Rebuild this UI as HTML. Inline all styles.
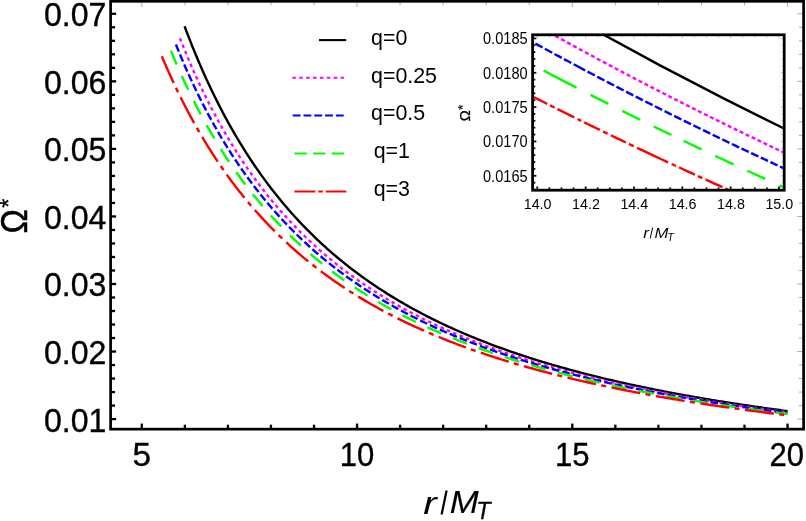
<!DOCTYPE html><html><head><meta charset="utf-8"><style>html,body{margin:0;padding:0;background:#fff}svg{display:block;will-change:transform}text{font-family:"Liberation Sans",sans-serif;fill:#000}</style></head><body>
<svg width="806" height="521" viewBox="0 0 806 521">
<rect width="806" height="521" fill="#fff"/>
<g fill="none" stroke-width="2.4" stroke-linecap="butt" stroke-linejoin="round">
<path d="M184.55,26.22 L186.56,31.55 L188.57,36.78 L190.58,41.91 L192.59,46.94 L194.60,51.87 L196.61,56.72 L198.62,61.48 L200.63,66.14 L202.64,70.73 L204.65,75.23 L206.66,79.65 L208.67,83.99 L210.68,88.26 L212.69,92.45 L214.70,96.56 L216.71,100.61 L218.72,104.59 L220.73,108.50 L222.74,112.34 L224.75,116.12 L226.76,119.83 L228.77,123.49 L230.78,127.08 L232.79,130.61 L234.80,134.09 L236.81,137.51 L238.82,140.88 L240.83,144.19 L242.84,147.45 L244.85,150.66 L246.86,153.81 L248.87,156.92 L250.88,159.98 L252.89,163.00 L254.90,165.96 L256.91,168.88 L258.92,171.76 L260.93,174.60 L262.94,177.39 L264.95,180.14 L266.96,182.85 L268.97,185.52 L270.98,188.16 L272.99,190.75 L275.00,193.31 L277.01,195.83 L279.02,198.31 L281.03,200.76 L283.04,203.17 L285.05,205.55 L287.06,207.90 L289.07,210.22 L291.08,212.50 L293.09,214.75 L295.10,216.97 L297.11,219.17 L299.12,221.33 L301.13,223.46 L303.14,225.56 L305.15,227.64 L307.16,229.69 L309.17,231.71 L311.18,233.71 L313.19,235.68 L315.20,237.62 L317.21,239.54 L319.22,241.44 L321.23,243.31 L323.24,245.15 L325.25,246.98 L327.26,248.78 L329.27,250.56 L331.28,252.31 L333.29,254.05 L335.30,255.76 L337.31,257.46 L339.32,259.13 L341.33,260.78 L343.34,262.41 L345.35,264.02 L347.36,265.62 L349.37,267.19 L351.38,268.75 L353.39,270.28 L355.40,271.80 L357.41,273.31 L359.42,274.79 L361.43,276.26 L363.44,277.71 L365.45,279.14 L367.46,280.56 L369.47,281.96 L371.48,283.34 L373.49,284.71 L375.50,286.07 L377.51,287.41 L379.52,288.73 L381.53,290.04 L383.54,291.34 L385.55,292.62 L387.56,293.89 L389.57,295.14 L391.58,296.38 L393.59,297.61 L395.60,298.82 L397.61,300.02 L399.62,301.21 L401.63,302.39 L403.64,303.55 L405.65,304.70 L407.66,305.84 L409.67,306.97 L411.68,308.08 L413.69,309.19 L415.70,310.28 L417.71,311.36 L419.72,312.43 L421.73,313.49 L423.74,314.54 L425.75,315.58 L427.76,316.61 L429.77,317.63 L431.78,318.63 L433.79,319.63 L435.80,320.62 L437.81,321.60 L439.82,322.57 L441.83,323.52 L443.84,324.47 L445.85,325.42 L447.86,326.35 L449.87,327.27 L451.88,328.18 L453.89,329.09 L455.90,329.99 L457.91,330.87 L459.92,331.75 L461.93,332.62 L463.94,333.49 L465.95,334.34 L467.96,335.19 L469.97,336.03 L471.98,336.86 L473.99,337.69 L476.00,338.50 L478.01,339.31 L480.02,340.11 L482.03,340.91 L484.04,341.70 L486.05,342.48 L488.06,343.25 L490.07,344.02 L492.08,344.78 L494.09,345.53 L496.10,346.28 L498.11,347.02 L500.12,347.75 L502.13,348.48 L504.14,349.20 L506.15,349.91 L508.16,350.62 L510.17,351.32 L512.18,352.02 L514.19,352.71 L516.20,353.39 L518.21,354.07 L520.22,354.74 L522.23,355.41 L524.24,356.07 L526.25,356.73 L528.26,357.38 L530.27,358.02 L532.28,358.66 L534.29,359.30 L536.30,359.93 L538.31,360.55 L540.32,361.17 L542.33,361.78 L544.34,362.39 L546.35,363.00 L548.36,363.60 L550.37,364.19 L552.38,364.78 L554.39,365.36 L556.40,365.94 L558.41,366.52 L560.42,367.09 L562.43,367.66 L564.44,368.22 L566.45,368.78 L568.46,369.33 L570.47,369.88 L572.48,370.42 L574.49,370.96 L576.50,371.50 L578.51,372.03 L580.52,372.56 L582.53,373.08 L584.54,373.60 L586.55,374.12 L588.56,374.63 L590.57,375.14 L592.58,375.64 L594.59,376.15 L596.60,376.64 L598.61,377.14 L600.62,377.62 L602.63,378.11 L604.64,378.59 L606.65,379.07 L608.66,379.55 L610.67,380.02 L612.68,380.49 L614.69,380.95 L616.70,381.41 L618.71,381.87 L620.72,382.33 L622.73,382.78 L624.74,383.23 L626.75,383.67 L628.76,384.11 L630.77,384.55 L632.78,384.99 L634.79,385.42 L636.80,385.85 L638.81,386.27 L640.82,386.70 L642.83,387.12 L644.84,387.54 L646.85,387.95 L648.86,388.36 L650.87,388.77 L652.88,389.18 L654.89,389.58 L656.90,389.98 L658.91,390.38 L660.92,390.77 L662.93,391.17 L664.94,391.56 L666.95,391.94 L668.96,392.33 L670.97,392.71 L672.98,393.09 L674.99,393.46 L677.00,393.84 L679.01,394.21 L681.02,394.58 L683.03,394.95 L685.04,395.31 L687.05,395.67 L689.06,396.03 L691.07,396.39 L693.08,396.74 L695.09,397.10 L697.10,397.45 L699.11,397.79 L701.12,398.14 L703.13,398.48 L705.14,398.82 L707.15,399.16 L709.16,399.50 L711.17,399.83 L713.18,400.17 L715.19,400.50 L717.20,400.83 L719.21,401.15 L721.22,401.48 L723.23,401.80 L725.24,402.12 L727.25,402.44 L729.26,402.75 L731.27,403.07 L733.28,403.38 L735.29,403.69 L737.30,404.00 L739.31,404.30 L741.32,404.61 L743.33,404.91 L745.34,405.21 L747.35,405.51 L749.36,405.81 L751.37,406.10 L753.38,406.40 L755.39,406.69 L757.40,406.98 L759.41,407.27 L761.42,407.55 L763.43,407.84 L765.44,408.12 L767.45,408.40 L769.46,408.68 L771.47,408.96 L773.48,409.24 L775.49,409.51 L777.50,409.78 L779.51,410.06 L781.52,410.33 L783.53,410.59 L785.54,410.86 L787.55,411.13" stroke="#000"/>
<path d="M179.94,38.21 L181.97,43.34 L183.99,48.37 L186.02,53.31 L188.04,58.16 L190.07,62.91 L192.09,67.58 L194.12,72.17 L196.15,76.67 L198.17,81.09 L200.20,85.44 L202.22,89.70 L204.25,93.89 L206.27,98.01 L208.30,102.06 L210.32,106.04 L212.35,109.94 L214.37,113.79 L216.40,117.56 L218.42,121.28 L220.45,124.93 L222.47,128.52 L224.50,132.06 L226.53,135.53 L228.55,138.95 L230.58,142.32 L232.60,145.63 L234.63,148.88 L236.65,152.09 L238.68,155.24 L240.70,158.35 L242.73,161.41 L244.75,164.42 L246.78,167.39 L248.80,170.31 L250.83,173.18 L252.86,176.01 L254.88,178.80 L256.91,181.55 L258.93,184.26 L260.96,186.93 L262.98,189.56 L265.01,192.15 L267.03,194.70 L269.06,197.22 L271.08,199.70 L273.11,202.15 L275.13,204.56 L277.16,206.93 L279.18,209.28 L281.21,211.59 L283.24,213.87 L285.26,216.12 L287.29,218.34 L289.31,220.52 L291.34,222.68 L293.36,224.81 L295.39,226.91 L297.41,228.98 L299.44,231.03 L301.46,233.05 L303.49,235.04 L305.51,237.01 L307.54,238.95 L309.57,240.86 L311.59,242.75 L313.62,244.62 L315.64,246.46 L317.67,248.28 L319.69,250.08 L321.72,251.85 L323.74,253.61 L325.77,255.34 L327.79,257.05 L329.82,258.74 L331.84,260.40 L333.87,262.05 L335.89,263.68 L337.92,265.29 L339.95,266.88 L341.97,268.45 L344.00,270.00 L346.02,271.53 L348.05,273.05 L350.07,274.55 L352.10,276.03 L354.12,277.49 L356.15,278.94 L358.17,280.37 L360.20,281.78 L362.22,283.18 L364.25,284.56 L366.28,285.92 L368.30,287.27 L370.33,288.61 L372.35,289.93 L374.38,291.24 L376.40,292.53 L378.43,293.81 L380.45,295.07 L382.48,296.32 L384.50,297.56 L386.53,298.78 L388.55,299.99 L390.58,301.19 L392.60,302.37 L394.63,303.54 L396.66,304.70 L398.68,305.85 L400.71,306.98 L402.73,308.11 L404.76,309.22 L406.78,310.32 L408.81,311.41 L410.83,312.49 L412.86,313.55 L414.88,314.61 L416.91,315.65 L418.93,316.69 L420.96,317.71 L422.99,318.73 L425.01,319.73 L427.04,320.72 L429.06,321.71 L431.09,322.68 L433.11,323.65 L435.14,324.60 L437.16,325.55 L439.19,326.49 L441.21,327.41 L443.24,328.33 L445.26,329.24 L447.29,330.15 L449.32,331.04 L451.34,331.92 L453.37,332.80 L455.39,333.67 L457.42,334.53 L459.44,335.38 L461.47,336.22 L463.49,337.06 L465.52,337.89 L467.54,338.71 L469.57,339.52 L471.59,340.33 L473.62,341.13 L475.64,341.92 L477.67,342.70 L479.70,343.48 L481.72,344.25 L483.75,345.01 L485.77,345.77 L487.80,346.52 L489.82,347.26 L491.85,348.00 L493.87,348.73 L495.90,349.45 L497.92,350.17 L499.95,350.88 L501.97,351.58 L504.00,352.28 L506.03,352.98 L508.05,353.66 L510.08,354.34 L512.10,355.02 L514.13,355.69 L516.15,356.35 L518.18,357.01 L520.20,357.66 L522.23,358.31 L524.25,358.95 L526.28,359.59 L528.30,360.22 L530.33,360.85 L532.35,361.47 L534.38,362.09 L536.41,362.70 L538.43,363.30 L540.46,363.90 L542.48,364.50 L544.51,365.09 L546.53,365.68 L548.56,366.26 L550.58,366.84 L552.61,367.41 L554.63,367.98 L556.66,368.54 L558.68,369.10 L560.71,369.65 L562.74,370.20 L564.76,370.75 L566.79,371.29 L568.81,371.83 L570.84,372.36 L572.86,372.89 L574.89,373.42 L576.91,373.94 L578.94,374.46 L580.96,374.97 L582.99,375.48 L585.01,375.98 L587.04,376.49 L589.06,376.98 L591.09,377.48 L593.12,377.97 L595.14,378.46 L597.17,378.94 L599.19,379.42 L601.22,379.90 L603.24,380.37 L605.27,380.84 L607.29,381.30 L609.32,381.76 L611.34,382.22 L613.37,382.68 L615.39,383.13 L617.42,383.58 L619.45,384.03 L621.47,384.47 L623.50,384.91 L625.52,385.34 L627.55,385.78 L629.57,386.21 L631.60,386.63 L633.62,387.06 L635.65,387.48 L637.67,387.90 L639.70,388.31 L641.72,388.73 L643.75,389.13 L645.77,389.54 L647.80,389.94 L649.83,390.35 L651.85,390.74 L653.88,391.14 L655.90,391.53 L657.93,391.92 L659.95,392.31 L661.98,392.69 L664.00,393.08 L666.03,393.46 L668.05,393.83 L670.08,394.21 L672.10,394.58 L674.13,394.95 L676.16,395.32 L678.18,395.68 L680.21,396.04 L682.23,396.40 L684.26,396.76 L686.28,397.11 L688.31,397.47 L690.33,397.82 L692.36,398.17 L694.38,398.51 L696.41,398.85 L698.43,399.20 L700.46,399.53 L702.48,399.87 L704.51,400.21 L706.54,400.54 L708.56,400.87 L710.59,401.20 L712.61,401.52 L714.64,401.85 L716.66,402.17 L718.69,402.49 L720.71,402.81 L722.74,403.13 L724.76,403.44 L726.79,403.75 L728.81,404.06 L730.84,404.37 L732.87,404.68 L734.89,404.98 L736.92,405.28 L738.94,405.58 L740.97,405.88 L742.99,406.18 L745.02,406.48 L747.04,406.77 L749.07,407.06 L751.09,407.35 L753.12,407.64 L755.14,407.93 L757.17,408.21 L759.19,408.49 L761.22,408.77 L763.25,409.05 L765.27,409.33 L767.30,409.61 L769.32,409.88 L771.35,410.16 L773.37,410.43 L775.40,410.70 L777.42,410.96 L779.45,411.23 L781.47,411.50 L783.50,411.76 L785.52,412.02 L787.55,412.28" stroke="#ff00ff" stroke-dasharray="3.5 3.4"/>
<path d="M175.90,44.47 L177.93,49.50 L179.97,54.43 L182.01,59.28 L184.05,64.03 L186.09,68.70 L188.13,73.28 L190.17,77.78 L192.21,82.19 L194.25,86.53 L196.28,90.80 L198.32,94.98 L200.36,99.10 L202.40,103.14 L204.44,107.11 L206.48,111.02 L208.52,114.86 L210.56,118.64 L212.59,122.35 L214.63,126.00 L216.67,129.59 L218.71,133.12 L220.75,136.59 L222.79,140.01 L224.83,143.37 L226.87,146.68 L228.91,149.93 L230.94,153.13 L232.98,156.29 L235.02,159.39 L237.06,162.45 L239.10,165.46 L241.14,168.42 L243.18,171.34 L245.22,174.21 L247.26,177.04 L249.29,179.83 L251.33,182.57 L253.37,185.28 L255.41,187.95 L257.45,190.57 L259.49,193.16 L261.53,195.71 L263.57,198.23 L265.60,200.71 L267.64,203.15 L269.68,205.56 L271.72,207.93 L273.76,210.27 L275.80,212.58 L277.84,214.86 L279.88,217.11 L281.92,219.32 L283.95,221.51 L285.99,223.66 L288.03,225.79 L290.07,227.89 L292.11,229.96 L294.15,232.00 L296.19,234.02 L298.23,236.01 L300.27,237.97 L302.30,239.91 L304.34,241.82 L306.38,243.71 L308.42,245.58 L310.46,247.42 L312.50,249.23 L314.54,251.03 L316.58,252.80 L318.61,254.55 L320.65,256.28 L322.69,257.99 L324.73,259.67 L326.77,261.34 L328.81,262.98 L330.85,264.61 L332.89,266.22 L334.93,267.80 L336.96,269.37 L339.00,270.92 L341.04,272.45 L343.08,273.96 L345.12,275.46 L347.16,276.94 L349.20,278.40 L351.24,279.84 L353.28,281.27 L355.31,282.68 L357.35,284.07 L359.39,285.45 L361.43,286.82 L363.47,288.17 L365.51,289.50 L367.55,290.82 L369.59,292.12 L371.63,293.41 L373.66,294.68 L375.70,295.95 L377.74,297.19 L379.78,298.43 L381.82,299.65 L383.86,300.86 L385.90,302.05 L387.94,303.23 L389.97,304.40 L392.01,305.56 L394.05,306.70 L396.09,307.84 L398.13,308.96 L400.17,310.07 L402.21,311.16 L404.25,312.25 L406.29,313.33 L408.32,314.39 L410.36,315.44 L412.40,316.49 L414.44,317.52 L416.48,318.54 L418.52,319.55 L420.56,320.55 L422.60,321.55 L424.64,322.53 L426.67,323.50 L428.71,324.46 L430.75,325.41 L432.79,326.36 L434.83,327.29 L436.87,328.22 L438.91,329.14 L440.95,330.04 L442.98,330.94 L445.02,331.83 L447.06,332.72 L449.10,333.59 L451.14,334.46 L453.18,335.31 L455.22,336.16 L457.26,337.00 L459.30,337.84 L461.33,338.66 L463.37,339.48 L465.41,340.29 L467.45,341.10 L469.49,341.89 L471.53,342.68 L473.57,343.46 L475.61,344.24 L477.65,345.01 L479.68,345.77 L481.72,346.52 L483.76,347.27 L485.80,348.01 L487.84,348.75 L489.88,349.47 L491.92,350.19 L493.96,350.91 L495.99,351.62 L498.03,352.32 L500.07,353.02 L502.11,353.71 L504.15,354.39 L506.19,355.07 L508.23,355.75 L510.27,356.41 L512.31,357.08 L514.34,357.73 L516.38,358.38 L518.42,359.03 L520.46,359.67 L522.50,360.30 L524.54,360.93 L526.58,361.56 L528.62,362.18 L530.66,362.79 L532.69,363.40 L534.73,364.00 L536.77,364.60 L538.81,365.19 L540.85,365.78 L542.89,366.37 L544.93,366.95 L546.97,367.52 L549.00,368.09 L551.04,368.66 L553.08,369.22 L555.12,369.78 L557.16,370.33 L559.20,370.88 L561.24,371.42 L563.28,371.96 L565.32,372.50 L567.35,373.03 L569.39,373.56 L571.43,374.08 L573.47,374.60 L575.51,375.12 L577.55,375.63 L579.59,376.14 L581.63,376.64 L583.67,377.14 L585.70,377.64 L587.74,378.13 L589.78,378.62 L591.82,379.10 L593.86,379.58 L595.90,380.06 L597.94,380.54 L599.98,381.01 L602.01,381.47 L604.05,381.94 L606.09,382.40 L608.13,382.86 L610.17,383.31 L612.21,383.76 L614.25,384.21 L616.29,384.65 L618.33,385.09 L620.36,385.53 L622.40,385.96 L624.44,386.40 L626.48,386.82 L628.52,387.25 L630.56,387.67 L632.60,388.09 L634.64,388.51 L636.68,388.92 L638.71,389.33 L640.75,389.74 L642.79,390.14 L644.83,390.55 L646.87,390.95 L648.91,391.34 L650.95,391.74 L652.99,392.13 L655.02,392.51 L657.06,392.90 L659.10,393.28 L661.14,393.66 L663.18,394.04 L665.22,394.42 L667.26,394.79 L669.30,395.16 L671.34,395.53 L673.37,395.89 L675.41,396.26 L677.45,396.62 L679.49,396.98 L681.53,397.33 L683.57,397.68 L685.61,398.04 L687.65,398.38 L689.69,398.73 L691.72,399.08 L693.76,399.42 L695.80,399.76 L697.84,400.10 L699.88,400.43 L701.92,400.76 L703.96,401.10 L706.00,401.42 L708.03,401.75 L710.07,402.08 L712.11,402.40 L714.15,402.72 L716.19,403.04 L718.23,403.35 L720.27,403.67 L722.31,403.98 L724.35,404.29 L726.38,404.60 L728.42,404.91 L730.46,405.21 L732.50,405.52 L734.54,405.82 L736.58,406.12 L738.62,406.41 L740.66,406.71 L742.70,407.00 L744.73,407.30 L746.77,407.59 L748.81,407.88 L750.85,408.16 L752.89,408.45 L754.93,408.73 L756.97,409.01 L759.01,409.29 L761.04,409.57 L763.08,409.85 L765.12,410.12 L767.16,410.40 L769.20,410.67 L771.24,410.94 L773.28,411.21 L775.32,411.47 L777.36,411.74 L779.39,412.00 L781.43,412.26 L783.47,412.52 L785.51,412.78 L787.55,413.04" stroke="#0000ff" stroke-dasharray="7.7 3.1"/>
<path d="M170.82,50.63 L172.87,55.58 L174.93,60.43 L176.98,65.20 L179.04,69.88 L181.09,74.48 L183.15,78.99 L185.21,83.42 L187.26,87.77 L189.32,92.04 L191.37,96.24 L193.43,100.36 L195.49,104.41 L197.54,108.39 L199.60,112.31 L201.65,116.15 L203.71,119.93 L205.76,123.65 L207.82,127.31 L209.88,130.90 L211.93,134.44 L213.99,137.92 L216.04,141.34 L218.10,144.70 L220.15,148.01 L222.21,151.27 L224.27,154.48 L226.32,157.64 L228.38,160.74 L230.43,163.80 L232.49,166.81 L234.54,169.78 L236.60,172.70 L238.66,175.57 L240.71,178.40 L242.77,181.19 L244.82,183.94 L246.88,186.64 L248.94,189.31 L250.99,191.94 L253.05,194.53 L255.10,197.08 L257.16,199.59 L259.21,202.07 L261.27,204.51 L263.33,206.92 L265.38,209.30 L267.44,211.64 L269.49,213.95 L271.55,216.22 L273.60,218.47 L275.66,220.68 L277.72,222.87 L279.77,225.02 L281.83,227.14 L283.88,229.24 L285.94,231.31 L288.00,233.35 L290.05,235.36 L292.11,237.35 L294.16,239.31 L296.22,241.25 L298.27,243.16 L300.33,245.05 L302.39,246.91 L304.44,248.75 L306.50,250.56 L308.55,252.35 L310.61,254.12 L312.66,255.87 L314.72,257.60 L316.78,259.30 L318.83,260.99 L320.89,262.65 L322.94,264.29 L325.00,265.91 L327.06,267.52 L329.11,269.10 L331.17,270.66 L333.22,272.21 L335.28,273.74 L337.33,275.25 L339.39,276.74 L341.45,278.21 L343.50,279.67 L345.56,281.11 L347.61,282.54 L349.67,283.94 L351.72,285.34 L353.78,286.71 L355.84,288.07 L357.89,289.42 L359.95,290.75 L362.00,292.06 L364.06,293.36 L366.11,294.65 L368.17,295.92 L370.23,297.18 L372.28,298.42 L374.34,299.65 L376.39,300.87 L378.45,302.07 L380.51,303.26 L382.56,304.44 L384.62,305.61 L386.67,306.76 L388.73,307.90 L390.78,309.03 L392.84,310.15 L394.90,311.25 L396.95,312.35 L399.01,313.43 L401.06,314.50 L403.12,315.56 L405.17,316.61 L407.23,317.65 L409.29,318.68 L411.34,319.70 L413.40,320.71 L415.45,321.71 L417.51,322.69 L419.57,323.67 L421.62,324.64 L423.68,325.60 L425.73,326.55 L427.79,327.49 L429.84,328.42 L431.90,329.34 L433.96,330.26 L436.01,331.16 L438.07,332.06 L440.12,332.94 L442.18,333.82 L444.23,334.69 L446.29,335.56 L448.35,336.41 L450.40,337.26 L452.46,338.09 L454.51,338.92 L456.57,339.75 L458.63,340.56 L460.68,341.37 L462.74,342.17 L464.79,342.96 L466.85,343.75 L468.90,344.53 L470.96,345.30 L473.02,346.06 L475.07,346.82 L477.13,347.57 L479.18,348.32 L481.24,349.05 L483.29,349.78 L485.35,350.51 L487.41,351.23 L489.46,351.94 L491.52,352.65 L493.57,353.34 L495.63,354.04 L497.68,354.73 L499.74,355.41 L501.80,356.08 L503.85,356.75 L505.91,357.42 L507.96,358.08 L510.02,358.73 L512.08,359.38 L514.13,360.02 L516.19,360.66 L518.24,361.29 L520.30,361.91 L522.35,362.53 L524.41,363.15 L526.47,363.76 L528.52,364.37 L530.58,364.97 L532.63,365.56 L534.69,366.16 L536.74,366.74 L538.80,367.32 L540.86,367.90 L542.91,368.47 L544.97,369.04 L547.02,369.60 L549.08,370.16 L551.14,370.72 L553.19,371.27 L555.25,371.81 L557.30,372.35 L559.36,372.89 L561.41,373.42 L563.47,373.95 L565.53,374.48 L567.58,375.00 L569.64,375.51 L571.69,376.03 L573.75,376.53 L575.80,377.04 L577.86,377.54 L579.92,378.04 L581.97,378.53 L584.03,379.02 L586.08,379.51 L588.14,379.99 L590.20,380.47 L592.25,380.94 L594.31,381.41 L596.36,381.88 L598.42,382.35 L600.47,382.81 L602.53,383.27 L604.59,383.72 L606.64,384.17 L608.70,384.62 L610.75,385.06 L612.81,385.51 L614.86,385.94 L616.92,386.38 L618.98,386.81 L621.03,387.24 L623.09,387.67 L625.14,388.09 L627.20,388.51 L629.25,388.92 L631.31,389.34 L633.37,389.75 L635.42,390.16 L637.48,390.56 L639.53,390.97 L641.59,391.36 L643.65,391.76 L645.70,392.16 L647.76,392.55 L649.81,392.94 L651.87,393.32 L653.92,393.71 L655.98,394.09 L658.04,394.46 L660.09,394.84 L662.15,395.21 L664.20,395.58 L666.26,395.95 L668.31,396.32 L670.37,396.68 L672.43,397.04 L674.48,397.40 L676.54,397.75 L678.59,398.11 L680.65,398.46 L682.71,398.81 L684.76,399.16 L686.82,399.50 L688.87,399.84 L690.93,400.18 L692.98,400.52 L695.04,400.85 L697.10,401.19 L699.15,401.52 L701.21,401.85 L703.26,402.17 L705.32,402.50 L707.37,402.82 L709.43,403.14 L711.49,403.46 L713.54,403.78 L715.60,404.09 L717.65,404.41 L719.71,404.72 L721.77,405.02 L723.82,405.33 L725.88,405.64 L727.93,405.94 L729.99,406.24 L732.04,406.54 L734.10,406.84 L736.16,407.13 L738.21,407.43 L740.27,407.72 L742.32,408.01 L744.38,408.30 L746.43,408.58 L748.49,408.87 L750.55,409.15 L752.60,409.43 L754.66,409.71 L756.71,409.99 L758.77,410.27 L760.82,410.54 L762.88,410.81 L764.94,411.09 L766.99,411.36 L769.05,411.62 L771.10,411.89 L773.16,412.16 L775.22,412.42 L777.27,412.68 L779.33,412.94 L781.38,413.20 L783.44,413.46 L785.49,413.71 L787.55,413.97" stroke="#00ff00" stroke-dasharray="15.1 12.58"/>
<path d="M161.82,56.26 L163.90,61.16 L165.99,65.97 L168.08,70.69 L170.16,75.33 L172.25,79.88 L174.33,84.34 L176.42,88.73 L178.50,93.04 L180.59,97.27 L182.68,101.42 L184.76,105.51 L186.85,109.52 L188.93,113.46 L191.02,117.33 L193.10,121.14 L195.19,124.88 L197.28,128.56 L199.36,132.18 L201.45,135.74 L203.53,139.24 L205.62,142.68 L207.71,146.07 L209.79,149.40 L211.88,152.68 L213.96,155.90 L216.05,159.07 L218.13,162.20 L220.22,165.27 L222.31,168.30 L224.39,171.27 L226.48,174.21 L228.56,177.10 L230.65,179.94 L232.73,182.74 L234.82,185.50 L236.91,188.22 L238.99,190.89 L241.08,193.53 L243.16,196.13 L245.25,198.69 L247.33,201.21 L249.42,203.70 L251.51,206.15 L253.59,208.57 L255.68,210.95 L257.76,213.30 L259.85,215.61 L261.94,217.89 L264.02,220.14 L266.11,222.36 L268.19,224.55 L270.28,226.71 L272.36,228.84 L274.45,230.94 L276.54,233.01 L278.62,235.06 L280.71,237.08 L282.79,239.07 L284.88,241.03 L286.96,242.97 L289.05,244.88 L291.14,246.77 L293.22,248.64 L295.31,250.48 L297.39,252.29 L299.48,254.09 L301.57,255.86 L303.65,257.61 L305.74,259.33 L307.82,261.04 L309.91,262.72 L311.99,264.39 L314.08,266.03 L316.17,267.65 L318.25,269.26 L320.34,270.84 L322.42,272.40 L324.51,273.95 L326.59,275.48 L328.68,276.99 L330.77,278.48 L332.85,279.95 L334.94,281.41 L337.02,282.85 L339.11,284.27 L341.19,285.68 L343.28,287.07 L345.37,288.44 L347.45,289.80 L349.54,291.14 L351.62,292.47 L353.71,293.78 L355.80,295.08 L357.88,296.37 L359.97,297.64 L362.05,298.89 L364.14,300.13 L366.22,301.36 L368.31,302.58 L370.40,303.78 L372.48,304.97 L374.57,306.14 L376.65,307.31 L378.74,308.46 L380.82,309.60 L382.91,310.72 L385.00,311.84 L387.08,312.94 L389.17,314.03 L391.25,315.11 L393.34,316.18 L395.42,317.24 L397.51,318.29 L399.60,319.32 L401.68,320.35 L403.77,321.36 L405.85,322.37 L407.94,323.36 L410.03,324.35 L412.11,325.32 L414.20,326.29 L416.28,327.24 L418.37,328.19 L420.45,329.13 L422.54,330.06 L424.63,330.97 L426.71,331.88 L428.80,332.79 L430.88,333.68 L432.97,334.56 L435.05,335.44 L437.14,336.30 L439.23,337.16 L441.31,338.01 L443.40,338.86 L445.48,339.69 L447.57,340.52 L449.65,341.34 L451.74,342.15 L453.83,342.95 L455.91,343.75 L458.00,344.54 L460.08,345.32 L462.17,346.10 L464.26,346.86 L466.34,347.62 L468.43,348.38 L470.51,349.13 L472.60,349.87 L474.68,350.60 L476.77,351.33 L478.86,352.05 L480.94,352.76 L483.03,353.47 L485.11,354.17 L487.20,354.87 L489.28,355.56 L491.37,356.24 L493.46,356.92 L495.54,357.59 L497.63,358.26 L499.71,358.92 L501.80,359.57 L503.88,360.22 L505.97,360.87 L508.06,361.51 L510.14,362.14 L512.23,362.77 L514.31,363.39 L516.40,364.01 L518.49,364.62 L520.57,365.23 L522.66,365.83 L524.74,366.43 L526.83,367.02 L528.91,367.61 L531.00,368.19 L533.09,368.77 L535.17,369.34 L537.26,369.91 L539.34,370.47 L541.43,371.03 L543.51,371.59 L545.60,372.14 L547.69,372.68 L549.77,373.23 L551.86,373.76 L553.94,374.30 L556.03,374.83 L558.12,375.35 L560.20,375.87 L562.29,376.39 L564.37,376.90 L566.46,377.41 L568.54,377.92 L570.63,378.42 L572.72,378.92 L574.80,379.41 L576.89,379.90 L578.97,380.38 L581.06,380.87 L583.14,381.35 L585.23,381.82 L587.32,382.29 L589.40,382.76 L591.49,383.23 L593.57,383.69 L595.66,384.14 L597.74,384.60 L599.83,385.05 L601.92,385.50 L604.00,385.94 L606.09,386.38 L608.17,386.82 L610.26,387.26 L612.35,387.69 L614.43,388.12 L616.52,388.54 L618.60,388.96 L620.69,389.38 L622.77,389.80 L624.86,390.21 L626.95,390.62 L629.03,391.03 L631.12,391.44 L633.20,391.84 L635.29,392.24 L637.37,392.63 L639.46,393.03 L641.55,393.42 L643.63,393.81 L645.72,394.19 L647.80,394.57 L649.89,394.95 L651.97,395.33 L654.06,395.71 L656.15,396.08 L658.23,396.45 L660.32,396.82 L662.40,397.18 L664.49,397.54 L666.58,397.90 L668.66,398.26 L670.75,398.62 L672.83,398.97 L674.92,399.32 L677.00,399.67 L679.09,400.01 L681.18,400.36 L683.26,400.70 L685.35,401.04 L687.43,401.37 L689.52,401.71 L691.60,402.04 L693.69,402.37 L695.78,402.70 L697.86,403.03 L699.95,403.35 L702.03,403.67 L704.12,403.99 L706.20,404.31 L708.29,404.62 L710.38,404.94 L712.46,405.25 L714.55,405.56 L716.63,405.87 L718.72,406.17 L720.81,406.48 L722.89,406.78 L724.98,407.08 L727.06,407.38 L729.15,407.67 L731.23,407.97 L733.32,408.26 L735.41,408.55 L737.49,408.84 L739.58,409.13 L741.66,409.41 L743.75,409.70 L745.83,409.98 L747.92,410.26 L750.01,410.54 L752.09,410.82 L754.18,411.09 L756.26,411.36 L758.35,411.64 L760.43,411.91 L762.52,412.18 L764.61,412.44 L766.69,412.71 L768.78,412.97 L770.86,413.23 L772.95,413.50 L775.04,413.75 L777.12,414.01 L779.21,414.27 L781.29,414.52 L783.38,414.78 L785.46,415.03 L787.55,415.28" stroke="#ff0000" stroke-dasharray="29.2 5.35 5.05 5.5"/>
</g>
<g stroke="#777" stroke-width="0.6">
<line x1="141.80" y1="2.55" x2="141.80" y2="7.05"/>
<line x1="184.85" y1="2.55" x2="184.85" y2="5.55"/>
<line x1="227.90" y1="2.55" x2="227.90" y2="5.55"/>
<line x1="270.95" y1="2.55" x2="270.95" y2="5.55"/>
<line x1="314.00" y1="2.55" x2="314.00" y2="5.55"/>
<line x1="357.05" y1="2.55" x2="357.05" y2="7.05"/>
<line x1="400.10" y1="2.55" x2="400.10" y2="5.55"/>
<line x1="443.15" y1="2.55" x2="443.15" y2="5.55"/>
<line x1="486.20" y1="2.55" x2="486.20" y2="5.55"/>
<line x1="529.25" y1="2.55" x2="529.25" y2="5.55"/>
<line x1="572.30" y1="2.55" x2="572.30" y2="7.05"/>
<line x1="615.35" y1="2.55" x2="615.35" y2="5.55"/>
<line x1="658.40" y1="2.55" x2="658.40" y2="5.55"/>
<line x1="701.45" y1="2.55" x2="701.45" y2="5.55"/>
<line x1="744.50" y1="2.55" x2="744.50" y2="5.55"/>
<line x1="787.55" y1="2.55" x2="787.55" y2="7.05"/>
<line x1="797.05" y1="419.10" x2="802.35" y2="419.10"/>
<line x1="798.95" y1="405.59" x2="802.35" y2="405.59"/>
<line x1="798.95" y1="392.08" x2="802.35" y2="392.08"/>
<line x1="798.95" y1="378.57" x2="802.35" y2="378.57"/>
<line x1="798.95" y1="365.06" x2="802.35" y2="365.06"/>
<line x1="797.05" y1="351.55" x2="802.35" y2="351.55"/>
<line x1="798.95" y1="338.04" x2="802.35" y2="338.04"/>
<line x1="798.95" y1="324.53" x2="802.35" y2="324.53"/>
<line x1="798.95" y1="311.02" x2="802.35" y2="311.02"/>
<line x1="798.95" y1="297.51" x2="802.35" y2="297.51"/>
<line x1="797.05" y1="284.00" x2="802.35" y2="284.00"/>
<line x1="798.95" y1="270.49" x2="802.35" y2="270.49"/>
<line x1="798.95" y1="256.98" x2="802.35" y2="256.98"/>
<line x1="798.95" y1="243.47" x2="802.35" y2="243.47"/>
<line x1="798.95" y1="229.96" x2="802.35" y2="229.96"/>
<line x1="797.05" y1="216.45" x2="802.35" y2="216.45"/>
<line x1="798.95" y1="202.94" x2="802.35" y2="202.94"/>
<line x1="798.95" y1="189.43" x2="802.35" y2="189.43"/>
<line x1="798.95" y1="175.92" x2="802.35" y2="175.92"/>
<line x1="798.95" y1="162.41" x2="802.35" y2="162.41"/>
<line x1="797.05" y1="148.90" x2="802.35" y2="148.90"/>
<line x1="798.95" y1="135.39" x2="802.35" y2="135.39"/>
<line x1="798.95" y1="121.88" x2="802.35" y2="121.88"/>
<line x1="798.95" y1="108.37" x2="802.35" y2="108.37"/>
<line x1="798.95" y1="94.86" x2="802.35" y2="94.86"/>
<line x1="797.05" y1="81.35" x2="802.35" y2="81.35"/>
<line x1="798.95" y1="67.84" x2="802.35" y2="67.84"/>
<line x1="798.95" y1="54.33" x2="802.35" y2="54.33"/>
<line x1="798.95" y1="40.82" x2="802.35" y2="40.82"/>
<line x1="798.95" y1="27.31" x2="802.35" y2="27.31"/>
<line x1="797.05" y1="13.80" x2="802.35" y2="13.80"/>
</g>
<g stroke="#000" stroke-width="2.3">
<line x1="141.80" y1="423.60" x2="141.80" y2="429.15"/>
<line x1="184.85" y1="424.70" x2="184.85" y2="429.15"/>
<line x1="227.90" y1="424.70" x2="227.90" y2="429.15"/>
<line x1="270.95" y1="424.70" x2="270.95" y2="429.15"/>
<line x1="314.00" y1="424.70" x2="314.00" y2="429.15"/>
<line x1="357.05" y1="423.60" x2="357.05" y2="429.15"/>
<line x1="400.10" y1="424.70" x2="400.10" y2="429.15"/>
<line x1="443.15" y1="424.70" x2="443.15" y2="429.15"/>
<line x1="486.20" y1="424.70" x2="486.20" y2="429.15"/>
<line x1="529.25" y1="424.70" x2="529.25" y2="429.15"/>
<line x1="572.30" y1="423.60" x2="572.30" y2="429.15"/>
<line x1="615.35" y1="424.70" x2="615.35" y2="429.15"/>
<line x1="658.40" y1="424.70" x2="658.40" y2="429.15"/>
<line x1="701.45" y1="424.70" x2="701.45" y2="429.15"/>
<line x1="744.50" y1="424.70" x2="744.50" y2="429.15"/>
<line x1="787.55" y1="423.60" x2="787.55" y2="429.15"/>
<line x1="110.60" y1="419.10" x2="116.15" y2="419.10"/>
<line x1="110.60" y1="405.59" x2="115.05" y2="405.59"/>
<line x1="110.60" y1="392.08" x2="115.05" y2="392.08"/>
<line x1="110.60" y1="378.57" x2="115.05" y2="378.57"/>
<line x1="110.60" y1="365.06" x2="115.05" y2="365.06"/>
<line x1="110.60" y1="351.55" x2="116.15" y2="351.55"/>
<line x1="110.60" y1="338.04" x2="115.05" y2="338.04"/>
<line x1="110.60" y1="324.53" x2="115.05" y2="324.53"/>
<line x1="110.60" y1="311.02" x2="115.05" y2="311.02"/>
<line x1="110.60" y1="297.51" x2="115.05" y2="297.51"/>
<line x1="110.60" y1="284.00" x2="116.15" y2="284.00"/>
<line x1="110.60" y1="270.49" x2="115.05" y2="270.49"/>
<line x1="110.60" y1="256.98" x2="115.05" y2="256.98"/>
<line x1="110.60" y1="243.47" x2="115.05" y2="243.47"/>
<line x1="110.60" y1="229.96" x2="115.05" y2="229.96"/>
<line x1="110.60" y1="216.45" x2="116.15" y2="216.45"/>
<line x1="110.60" y1="202.94" x2="115.05" y2="202.94"/>
<line x1="110.60" y1="189.43" x2="115.05" y2="189.43"/>
<line x1="110.60" y1="175.92" x2="115.05" y2="175.92"/>
<line x1="110.60" y1="162.41" x2="115.05" y2="162.41"/>
<line x1="110.60" y1="148.90" x2="116.15" y2="148.90"/>
<line x1="110.60" y1="135.39" x2="115.05" y2="135.39"/>
<line x1="110.60" y1="121.88" x2="115.05" y2="121.88"/>
<line x1="110.60" y1="108.37" x2="115.05" y2="108.37"/>
<line x1="110.60" y1="94.86" x2="115.05" y2="94.86"/>
<line x1="110.60" y1="81.35" x2="116.15" y2="81.35"/>
<line x1="110.60" y1="67.84" x2="115.05" y2="67.84"/>
<line x1="110.60" y1="54.33" x2="115.05" y2="54.33"/>
<line x1="110.60" y1="40.82" x2="115.05" y2="40.82"/>
<line x1="110.60" y1="27.31" x2="115.05" y2="27.31"/>
<line x1="110.60" y1="13.80" x2="116.15" y2="13.80"/>
</g>
<rect x="110.60" y="1.30" width="693.00" height="427.85" fill="none" stroke="#000" stroke-width="2.7"/>
<text x="106.3" y="431.50" font-size="33.3" text-anchor="end" textLength="62.4" lengthAdjust="spacingAndGlyphs" stroke="#000" stroke-width="0.35">0.01</text>
<text x="106.3" y="363.95" font-size="33.3" text-anchor="end" textLength="62.4" lengthAdjust="spacingAndGlyphs" stroke="#000" stroke-width="0.35">0.02</text>
<text x="106.3" y="296.40" font-size="33.3" text-anchor="end" textLength="62.4" lengthAdjust="spacingAndGlyphs" stroke="#000" stroke-width="0.35">0.03</text>
<text x="106.3" y="228.85" font-size="33.3" text-anchor="end" textLength="62.4" lengthAdjust="spacingAndGlyphs" stroke="#000" stroke-width="0.35">0.04</text>
<text x="106.3" y="161.30" font-size="33.3" text-anchor="end" textLength="62.4" lengthAdjust="spacingAndGlyphs" stroke="#000" stroke-width="0.35">0.05</text>
<text x="106.3" y="93.75" font-size="33.3" text-anchor="end" textLength="62.4" lengthAdjust="spacingAndGlyphs" stroke="#000" stroke-width="0.35">0.06</text>
<text x="106.3" y="26.20" font-size="33.3" text-anchor="end" textLength="62.4" lengthAdjust="spacingAndGlyphs" stroke="#000" stroke-width="0.35">0.07</text>
<text x="141.80" y="465.9" font-size="33.3" text-anchor="middle" stroke="#000" stroke-width="0.35">5</text>
<text x="357.05" y="465.9" font-size="33.3" text-anchor="middle" stroke="#000" stroke-width="0.35" textLength="34.6" lengthAdjust="spacingAndGlyphs">10</text>
<text x="572.30" y="465.9" font-size="33.3" text-anchor="middle" stroke="#000" stroke-width="0.35" textLength="34.6" lengthAdjust="spacingAndGlyphs">15</text>
<text x="786.80" y="465.9" font-size="33.3" text-anchor="middle" stroke="#000" stroke-width="0.35" textLength="34.6" lengthAdjust="spacingAndGlyphs">20</text>
<text x="423.3" y="513.5" font-size="32" font-style="italic" textLength="13.4" lengthAdjust="spacingAndGlyphs">r</text>
<line x1="446.6" y1="490.5" x2="441.6" y2="514.5" stroke="#000" stroke-width="2.2"/>
<text x="449.8" y="513.2" font-size="30.5" font-style="italic" textLength="29" lengthAdjust="spacingAndGlyphs" stroke="#000" stroke-width="0.1">M</text>
<text x="476.3" y="519.3" font-size="23.3" font-style="italic" stroke="#000" stroke-width="0.3">T</text>
<g transform="translate(27.3,233.4) rotate(-90)"><text x="0" y="0" font-size="37.5" textLength="24.3" lengthAdjust="spacingAndGlyphs" stroke="#000" stroke-width="0.5">Ω</text><text x="25.6" y="-10.2" font-size="23.5" stroke="#000" stroke-width="0.3">*</text></g>
<line x1="319.00" y1="40.10" x2="346.20" y2="40.10" stroke="#000" stroke-width="2.1"/>
<text x="371.00" y="44.90" font-size="21.4">q=0</text>
<line x1="292.30" y1="77.70" x2="344.00" y2="77.70" stroke="#ff00ff" stroke-width="2.1" stroke-dasharray="3.6 3.3"/>
<text x="371.00" y="82.50" font-size="21.4">q=0.25</text>
<line x1="292.70" y1="115.50" x2="344.00" y2="115.50" stroke="#0000ff" stroke-width="2.1" stroke-dasharray="7.8 3"/>
<text x="371.00" y="120.30" font-size="21.4">q=0.5</text>
<line x1="294.50" y1="153.50" x2="344.20" y2="153.50" stroke="#00ff00" stroke-width="2.1" stroke-dasharray="12.3 6.3"/>
<text x="373.70" y="158.20" font-size="21.4">q=1</text>
<line x1="294.50" y1="191.50" x2="346.30" y2="191.50" stroke="#ff0000" stroke-width="2.1" stroke-dasharray="20.8 3 4.5 3"/>
<text x="373.70" y="196.10" font-size="21.4">q=3</text>
<rect x="532.60" y="34.80" width="251.60" height="155.40" fill="#fff"/>
<defs><clipPath id="ic"><rect x="532.60" y="34.80" width="251.60" height="155.40"/></clipPath></defs>
<g clip-path="url(#ic)" fill="none" stroke-width="2.4">
<path d="M530.00,-7.09 L595.00,30.00 L660.00,65.39 L725.00,99.18 L790.00,131.46" stroke="#000"/>
<path d="M543.40,29.24 L544.27,29.72 L545.15,30.21 L546.02,30.70 L546.90,31.19 M549.35,32.55 L550.23,33.03 L551.10,33.52 L551.98,34.00 L552.85,34.49 M555.30,35.84 L556.18,36.33 L557.05,36.81 L557.93,37.29 L558.80,37.78 M561.25,39.13 L562.13,39.61 L563.00,40.09 L563.88,40.57 L564.75,41.05 M567.20,42.40 L568.08,42.88 L568.95,43.35 L569.83,43.83 L570.70,44.31 M573.15,45.65 L574.03,46.13 L574.90,46.60 L575.78,47.08 L576.65,47.56 M579.10,48.89 L579.98,49.37 L580.85,49.84 L581.73,50.32 L582.60,50.79 M585.05,52.12 L585.93,52.59 L586.80,53.06 L587.68,53.54 L588.55,54.01 M591.00,55.33 L591.88,55.80 L592.75,56.27 L593.63,56.74 L594.50,57.22 M596.95,58.53 L597.83,59.00 L598.70,59.47 L599.58,59.94 L600.45,60.41 M602.90,61.72 L603.78,62.18 L604.65,62.65 L605.53,63.12 L606.40,63.58 M608.85,64.89 L609.73,65.35 L610.60,65.82 L611.48,66.28 L612.35,66.75 M614.80,68.05 L615.68,68.51 L616.55,68.97 L617.43,69.44 L618.30,69.90 M620.75,71.19 L621.63,71.66 L622.50,72.12 L623.38,72.58 L624.25,73.04 M626.70,74.33 L627.58,74.79 L628.45,75.25 L629.33,75.70 L630.20,76.16 M632.65,77.45 L633.53,77.90 L634.40,78.36 L635.28,78.82 L636.15,79.27 M638.60,80.55 L639.48,81.01 L640.35,81.46 L641.23,81.92 L642.10,82.37 M644.55,83.64 L645.43,84.10 L646.30,84.55 L647.18,85.01 L648.05,85.46 M650.50,86.72 L651.38,87.18 L652.25,87.63 L653.13,88.08 L654.00,88.53 M656.45,89.79 L657.33,90.24 L658.20,90.69 L659.08,91.14 L659.95,91.59 M662.40,92.85 L663.28,93.29 L664.15,93.74 L665.03,94.19 L665.90,94.64 M668.35,95.89 L669.23,96.33 L670.10,96.78 L670.98,97.23 L671.85,97.67 M674.30,98.92 L675.18,99.36 L676.05,99.81 L676.93,100.25 L677.80,100.69 M680.25,101.93 L681.13,102.38 L682.00,102.82 L682.88,103.26 L683.75,103.70 M686.20,104.94 L687.08,105.38 L687.95,105.82 L688.83,106.26 L689.70,106.70 M692.15,107.93 L693.03,108.37 L693.90,108.81 L694.78,109.25 L695.65,109.68 M698.10,110.91 L698.98,111.35 L699.85,111.78 L700.73,112.22 L701.60,112.65 M704.05,113.88 L704.93,114.31 L705.80,114.75 L706.68,115.18 L707.55,115.61 M710.00,116.83 L710.88,117.26 L711.75,117.70 L712.63,118.13 L713.50,118.56 M715.95,119.77 L716.83,120.20 L717.70,120.64 L718.58,121.07 L719.45,121.50 M721.90,122.70 L722.78,123.13 L723.65,123.56 L724.53,123.99 L725.40,124.42 M727.85,125.62 L728.73,126.05 L729.60,126.48 L730.48,126.90 L731.35,127.33 M733.80,128.53 L734.68,128.95 L735.55,129.38 L736.43,129.81 L737.30,130.23 M739.75,131.42 L740.63,131.85 L741.50,132.27 L742.38,132.70 L743.25,133.12 M745.70,134.30 L746.58,134.73 L747.45,135.15 L748.33,135.57 L749.20,135.99 M751.65,137.18 L752.53,137.60 L753.40,138.02 L754.28,138.44 L755.15,138.86 M757.60,140.03 L758.48,140.45 L759.35,140.87 L760.23,141.29 L761.10,141.71 M763.55,142.88 L764.43,143.30 L765.30,143.72 L766.18,144.14 L767.05,144.55 M769.50,145.72 L770.38,146.13 L771.25,146.55 L772.13,146.97 L773.00,147.38 M775.45,148.54 L776.33,148.96 L777.20,149.37 L778.08,149.79 L778.95,150.20 M781.40,151.36 L782.28,151.77 L783.15,152.18 L784.03,152.59 L784.90,153.01 M787.35,154.16 L788.23,154.57 L789.10,154.98 L789.98,155.39 L790.85,155.80" stroke="#ff00ff"/>
<path d="M535.40,43.62 L537.20,44.60 L539.00,45.58 L540.80,46.57 L542.60,47.55 M544.95,48.82 L546.75,49.80 L548.55,50.78 L550.35,51.75 L552.15,52.72 M554.50,53.99 L556.30,54.96 L558.10,55.93 L559.90,56.90 L561.70,57.87 M564.05,59.13 L565.85,60.09 L567.65,61.06 L569.45,62.02 L571.25,62.98 M573.70,64.28 L576.55,65.80 L579.40,67.31 L582.25,68.82 L585.10,70.33 M587.60,71.64 L589.40,72.59 L591.20,73.54 L593.00,74.48 L594.80,75.43 M597.22,76.70 L599.02,77.64 L600.82,78.58 L602.62,79.52 L604.42,80.46 M606.84,81.71 L608.64,82.65 L610.44,83.58 L612.24,84.52 L614.04,85.45 M616.46,86.70 L618.26,87.63 L620.06,88.56 L621.86,89.48 L623.66,90.41 M626.08,91.65 L627.88,92.57 L629.68,93.49 L631.48,94.41 L633.28,95.33 M635.70,96.57 L637.50,97.48 L639.30,98.40 L641.10,99.31 L642.90,100.23 M645.32,101.45 L647.12,102.36 L648.92,103.27 L650.72,104.18 L652.52,105.08 M654.94,106.30 L656.74,107.21 L658.54,108.11 L660.34,109.01 L662.14,109.91 M664.56,111.12 L666.36,112.02 L668.16,112.92 L669.96,113.81 L671.76,114.71 M674.18,115.91 L675.98,116.80 L677.78,117.69 L679.58,118.58 L681.38,119.47 M683.80,120.66 L685.60,121.55 L687.40,122.44 L689.20,123.32 L691.00,124.20 M693.42,125.39 L695.22,126.27 L697.02,127.15 L698.82,128.03 L700.62,128.90 M703.04,130.08 L704.84,130.95 L706.64,131.83 L708.44,132.70 L710.24,133.57 M712.66,134.74 L714.46,135.61 L716.26,136.48 L718.06,137.34 L719.86,138.21 M722.28,139.37 L724.08,140.24 L725.88,141.10 L727.68,141.96 L729.48,142.82 M731.90,143.97 L733.70,144.83 L735.50,145.69 L737.30,146.54 L739.10,147.40 M741.52,148.54 L743.32,149.40 L745.12,150.25 L746.92,151.10 L748.72,151.95 M751.14,153.08 L752.94,153.93 L754.74,154.78 L756.54,155.62 L758.34,156.46 M760.76,157.60 L762.56,158.44 L764.36,159.28 L766.16,160.12 L767.96,160.95 M770.38,162.08 L772.18,162.91 L773.98,163.75 L775.78,164.58 L777.58,165.41 M780.00,166.53 L781.80,167.36 L783.60,168.19 L785.40,169.02 L787.20,169.84 M789.62,170.96 L791.42,171.78 L793.22,172.60 L795.02,173.43 L796.82,174.25" stroke="#0000ff"/>
<path d="M543.60,70.51 L551.83,74.84 L560.05,79.14 L568.27,83.42 L576.50,87.67 M590.50,94.85 L594.95,97.12 L599.40,99.38 L603.85,101.64 L608.30,103.89 M622.30,110.91 L626.77,113.14 L631.25,115.37 L635.73,117.58 L640.20,119.79 M653.80,126.47 L658.20,128.62 L662.60,130.76 L667.00,132.89 L671.40,135.02 M683.60,140.88 L688.10,143.03 L692.60,145.18 L697.10,147.31 L701.60,149.45 M715.30,155.89 L719.88,158.03 L724.45,160.17 L729.02,162.29 L733.60,164.42 M747.30,170.73 L751.77,172.77 L756.25,174.82 L760.73,176.85 L765.20,178.88 M779.60,185.38 L782.20,186.54 L784.80,187.71 L787.40,188.87 L790.00,190.03" stroke="#00ff00"/>
<path d="M530.30,95.34 L534.52,97.49 L538.75,99.64 L542.98,101.77 L547.20,103.91 M550.00,105.32 L551.15,105.89 L552.30,106.47 L553.45,107.05 L554.60,107.63 M557.50,109.08 L561.67,111.16 L565.85,113.24 L570.03,115.32 L574.20,117.39 M577.50,119.02 L578.42,119.47 L579.35,119.93 L580.28,120.38 L581.20,120.84 M584.20,122.32 L588.10,124.23 L592.00,126.14 L595.90,128.04 L599.80,129.94 M603.00,131.49 L604.15,132.05 L605.30,132.60 L606.45,133.16 L607.60,133.72 M610.80,135.26 L614.58,137.08 L618.35,138.89 L622.12,140.70 L625.90,142.51 M628.90,143.94 L630.12,144.52 L631.35,145.10 L632.58,145.69 L633.80,146.27 M637.00,147.79 L644.77,151.46 L652.55,155.11 L660.33,158.75 L668.10,162.37 M671.70,164.03 L672.77,164.53 L673.85,165.03 L674.92,165.52 L676.00,166.02 M679.10,167.45 L683.05,169.27 L687.00,171.08 L690.95,172.88 L694.90,174.69 M698.00,176.10 L699.08,176.59 L700.15,177.07 L701.23,177.56 L702.30,178.05 M705.50,179.50 L709.73,181.41 L713.95,183.31 L718.18,185.21 L722.40,187.10 M725.30,188.40 L726.08,188.74 L726.85,189.09 L727.62,189.44 L728.40,189.78 M731.60,191.21 L735.62,192.99 L739.65,194.77 L743.67,196.55 L747.70,198.33" stroke="#ff0000"/>
</g>
<g stroke="#000" stroke-width="1.7">
<line x1="532.60" y1="189.54" x2="535.35" y2="189.54"/>
<line x1="532.60" y1="182.67" x2="535.35" y2="182.67"/>
<line x1="532.60" y1="175.80" x2="536.35" y2="175.80"/>
<line x1="532.60" y1="168.93" x2="535.35" y2="168.93"/>
<line x1="532.60" y1="162.06" x2="535.35" y2="162.06"/>
<line x1="532.60" y1="155.19" x2="535.35" y2="155.19"/>
<line x1="532.60" y1="148.32" x2="535.35" y2="148.32"/>
<line x1="532.60" y1="141.45" x2="536.35" y2="141.45"/>
<line x1="532.60" y1="134.58" x2="535.35" y2="134.58"/>
<line x1="532.60" y1="127.71" x2="535.35" y2="127.71"/>
<line x1="532.60" y1="120.84" x2="535.35" y2="120.84"/>
<line x1="532.60" y1="113.97" x2="535.35" y2="113.97"/>
<line x1="532.60" y1="107.10" x2="536.35" y2="107.10"/>
<line x1="532.60" y1="100.23" x2="535.35" y2="100.23"/>
<line x1="532.60" y1="93.36" x2="535.35" y2="93.36"/>
<line x1="532.60" y1="86.49" x2="535.35" y2="86.49"/>
<line x1="532.60" y1="79.62" x2="535.35" y2="79.62"/>
<line x1="532.60" y1="72.75" x2="536.35" y2="72.75"/>
<line x1="532.60" y1="65.88" x2="535.35" y2="65.88"/>
<line x1="532.60" y1="59.01" x2="535.35" y2="59.01"/>
<line x1="532.60" y1="52.14" x2="535.35" y2="52.14"/>
<line x1="532.60" y1="45.27" x2="535.35" y2="45.27"/>
<line x1="532.60" y1="38.40" x2="536.35" y2="38.40"/>
<line x1="537.30" y1="186.45" x2="537.30" y2="190.20"/>
<line x1="549.39" y1="187.45" x2="549.39" y2="190.20"/>
<line x1="561.47" y1="187.45" x2="561.47" y2="190.20"/>
<line x1="573.56" y1="187.45" x2="573.56" y2="190.20"/>
<line x1="585.64" y1="186.45" x2="585.64" y2="190.20"/>
<line x1="597.72" y1="187.45" x2="597.72" y2="190.20"/>
<line x1="609.81" y1="187.45" x2="609.81" y2="190.20"/>
<line x1="621.89" y1="187.45" x2="621.89" y2="190.20"/>
<line x1="633.98" y1="186.45" x2="633.98" y2="190.20"/>
<line x1="646.06" y1="187.45" x2="646.06" y2="190.20"/>
<line x1="658.15" y1="187.45" x2="658.15" y2="190.20"/>
<line x1="670.24" y1="187.45" x2="670.24" y2="190.20"/>
<line x1="682.32" y1="186.45" x2="682.32" y2="190.20"/>
<line x1="694.40" y1="187.45" x2="694.40" y2="190.20"/>
<line x1="706.49" y1="187.45" x2="706.49" y2="190.20"/>
<line x1="718.57" y1="187.45" x2="718.57" y2="190.20"/>
<line x1="730.66" y1="186.45" x2="730.66" y2="190.20"/>
<line x1="742.74" y1="187.45" x2="742.74" y2="190.20"/>
<line x1="754.83" y1="187.45" x2="754.83" y2="190.20"/>
<line x1="766.91" y1="187.45" x2="766.91" y2="190.20"/>
<line x1="779.00" y1="186.45" x2="779.00" y2="190.20"/>
</g>
<g stroke="#888" stroke-width="0.5">
<line x1="781.45" y1="189.54" x2="784.20" y2="189.54"/>
<line x1="781.45" y1="182.67" x2="784.20" y2="182.67"/>
<line x1="780.45" y1="175.80" x2="784.20" y2="175.80"/>
<line x1="781.45" y1="168.93" x2="784.20" y2="168.93"/>
<line x1="781.45" y1="162.06" x2="784.20" y2="162.06"/>
<line x1="781.45" y1="155.19" x2="784.20" y2="155.19"/>
<line x1="781.45" y1="148.32" x2="784.20" y2="148.32"/>
<line x1="780.45" y1="141.45" x2="784.20" y2="141.45"/>
<line x1="781.45" y1="134.58" x2="784.20" y2="134.58"/>
<line x1="781.45" y1="127.71" x2="784.20" y2="127.71"/>
<line x1="781.45" y1="120.84" x2="784.20" y2="120.84"/>
<line x1="781.45" y1="113.97" x2="784.20" y2="113.97"/>
<line x1="780.45" y1="107.10" x2="784.20" y2="107.10"/>
<line x1="781.45" y1="100.23" x2="784.20" y2="100.23"/>
<line x1="781.45" y1="93.36" x2="784.20" y2="93.36"/>
<line x1="781.45" y1="86.49" x2="784.20" y2="86.49"/>
<line x1="781.45" y1="79.62" x2="784.20" y2="79.62"/>
<line x1="780.45" y1="72.75" x2="784.20" y2="72.75"/>
<line x1="781.45" y1="65.88" x2="784.20" y2="65.88"/>
<line x1="781.45" y1="59.01" x2="784.20" y2="59.01"/>
<line x1="781.45" y1="52.14" x2="784.20" y2="52.14"/>
<line x1="781.45" y1="45.27" x2="784.20" y2="45.27"/>
<line x1="780.45" y1="38.40" x2="784.20" y2="38.40"/>
<line x1="537.30" y1="34.80" x2="537.30" y2="38.55"/>
<line x1="549.39" y1="34.80" x2="549.39" y2="37.55"/>
<line x1="561.47" y1="34.80" x2="561.47" y2="37.55"/>
<line x1="573.56" y1="34.80" x2="573.56" y2="37.55"/>
<line x1="585.64" y1="34.80" x2="585.64" y2="38.55"/>
<line x1="597.72" y1="34.80" x2="597.72" y2="37.55"/>
<line x1="609.81" y1="34.80" x2="609.81" y2="37.55"/>
<line x1="621.89" y1="34.80" x2="621.89" y2="37.55"/>
<line x1="633.98" y1="34.80" x2="633.98" y2="38.55"/>
<line x1="646.06" y1="34.80" x2="646.06" y2="37.55"/>
<line x1="658.15" y1="34.80" x2="658.15" y2="37.55"/>
<line x1="670.24" y1="34.80" x2="670.24" y2="37.55"/>
<line x1="682.32" y1="34.80" x2="682.32" y2="38.55"/>
<line x1="694.40" y1="34.80" x2="694.40" y2="37.55"/>
<line x1="706.49" y1="34.80" x2="706.49" y2="37.55"/>
<line x1="718.57" y1="34.80" x2="718.57" y2="37.55"/>
<line x1="730.66" y1="34.80" x2="730.66" y2="38.55"/>
<line x1="742.74" y1="34.80" x2="742.74" y2="37.55"/>
<line x1="754.83" y1="34.80" x2="754.83" y2="37.55"/>
<line x1="766.91" y1="34.80" x2="766.91" y2="37.55"/>
<line x1="779.00" y1="34.80" x2="779.00" y2="38.55"/>
</g>
<rect x="532.60" y="34.80" width="251.60" height="155.40" fill="none" stroke="#000" stroke-width="2.8"/>
<text x="527.6" y="181.55" font-size="15.6" text-anchor="end" textLength="44.6" lengthAdjust="spacingAndGlyphs">0.0165</text>
<text x="527.6" y="147.20" font-size="15.6" text-anchor="end" textLength="44.6" lengthAdjust="spacingAndGlyphs">0.0170</text>
<text x="527.6" y="112.85" font-size="15.6" text-anchor="end" textLength="44.6" lengthAdjust="spacingAndGlyphs">0.0175</text>
<text x="527.6" y="78.50" font-size="15.6" text-anchor="end" textLength="44.6" lengthAdjust="spacingAndGlyphs">0.0180</text>
<text x="527.6" y="44.15" font-size="15.6" text-anchor="end" textLength="44.6" lengthAdjust="spacingAndGlyphs">0.0185</text>
<text x="537.60" y="209.3" font-size="15.2" text-anchor="middle" textLength="27.8" lengthAdjust="spacingAndGlyphs">14.0</text>
<text x="585.94" y="209.3" font-size="15.2" text-anchor="middle" textLength="27.8" lengthAdjust="spacingAndGlyphs">14.2</text>
<text x="634.28" y="209.3" font-size="15.2" text-anchor="middle" textLength="27.8" lengthAdjust="spacingAndGlyphs">14.4</text>
<text x="682.62" y="209.3" font-size="15.2" text-anchor="middle" textLength="27.8" lengthAdjust="spacingAndGlyphs">14.6</text>
<text x="730.96" y="209.3" font-size="15.2" text-anchor="middle" textLength="27.8" lengthAdjust="spacingAndGlyphs">14.8</text>
<text x="779.30" y="209.3" font-size="15.2" text-anchor="middle" textLength="27.8" lengthAdjust="spacingAndGlyphs">15.0</text>
<text x="643.2" y="237.8" font-size="14.3" font-style="italic" textLength="5.7" lengthAdjust="spacingAndGlyphs">r</text>
<line x1="652.6" y1="227.6" x2="650.2" y2="238.5" stroke="#000" stroke-width="1"/>
<text x="654.4" y="237.7" font-size="14.6" font-style="italic" textLength="13.9" lengthAdjust="spacingAndGlyphs">M</text>
<text x="667.2" y="240.8" font-size="10.8" font-style="italic">T</text>
<g transform="translate(470.3,121.2) rotate(-90)"><text x="0" y="0" font-size="15.2" textLength="11" lengthAdjust="spacingAndGlyphs" stroke="#000" stroke-width="0.25">Ω</text><text x="11.1" y="-3.7" font-size="13.5" stroke="#000" stroke-width="0.15">*</text></g>
</svg></body></html>
